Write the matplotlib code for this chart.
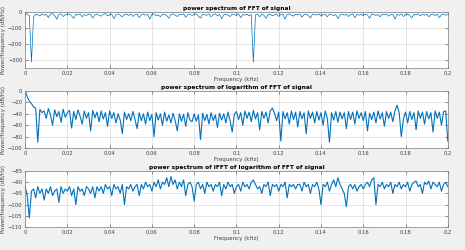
"""Three stacked power spectra, MATLAB-style figure."""

import matplotlib

matplotlib.use("Agg")
import matplotlib.pyplot as plt
import numpy as np

# power spectrum of FFT of signal (dB/Hz), one value every 0.001 kHz
fft_psd = [
    -8, -15, -22, -312, -30, -14, -18, -25, -12, -20,
    -16, -35, -13, -10, -22, -45, -15, -12, -28, -18,
    -14, -12, -25, -40, -14, -18, -12, -30, -16, -22,
    -13, -15, -38, -18, -12, -20, -26, -14, -10, -24,
    -18, -14, -42, -16, -12, -20, -30, -15, -13, -22,
    -12, -28, -16, -14, -35, -18, -12, -20, -15, -45,
    -14, -12, -24, -18, -30, -13, -16, -22, -40, -15,
    -12, -20, -28, -14, -18, -12, -33, -16, -14, -22,
    -15, -12, -26, -38, -14, -18, -20, -13, -30, -16,
    -12, -24, -15, -42, -18, -14, -20, -28, -13, -16,
    -22, -12, -35, -15, -20, -14, -25, -16, -315, -18,
    -14, -30, -12, -20, -40, -15, -13, -24, -18, -12,
    -28, -16, -14, -45, -15, -12, -20, -26, -14, -18,
    -12, -32, -16, -14, -22, -38, -13, -15, -20, -12,
    -26, -18, -14, -30, -12, -16, -24, -15, -42, -18,
    -12, -20, -14, -28, -16, -12, -36, -15, -20, -13,
    -24, -14, -18, -40, -12, -16, -22, -15, -30, -13,
    -18, -12, -26, -16, -14, -45, -15, -20, -12, -28,
    -16, -13, -22, -38, -14, -18, -12, -24, -15, -20,
    -13, -30, -16, -12, -22, -14, -35, -18, -12, -20, -16,
]

# power spectrum of logarithm of FFT of signal
log_psd = [
    0, -10, -18, -22, -28, -30, -90, -32, -38, -35,
    -48, -31, -42, -60, -33, -45, -36, -55, -32, -46,
    -38, -34, -65, -36, -50, -33, -44, -58, -35, -48,
    -38, -70, -34, -47, -37, -54, -35, -49, -38, -62,
    -35, -48, -38, -56, -40, -51, -75, -37, -50, -40,
    -52, -36, -50, -66, -38, -52, -40, -58, -37, -52,
    -41, -80, -38, -51, -40, -60, -37, -53, -42, -56,
    -39, -52, -70, -40, -53, -41, -62, -38, -51, -54,
    -40, -53, -42, -85, -39, -52, -41, -58, -38, -52,
    -42, -64, -39, -51, -40, -56, -37, -52, -72, -41,
    -36, -50, -38, -60, -35, -48, -37, -54, -34, -49,
    -38, -68, -36, -48, -37, -56, -35, -30, -39, -52,
    -37, -88, -36, -49, -38, -58, -35, -50, -37, -63,
    -36, -49, -38, -75, -35, -48, -37, -56, -36, -51,
    -38, -60, -35, -48, -90, -38, -51, -36, -55, -37,
    -49, -38, -66, -36, -50, -37, -58, -35, -48, -38,
    -52, -36, -70, -39, -50, -37, -56, -35, -49, -38,
    -62, -36, -48, -37, -54, -35, -25, -38, -80, -49,
    -37, -56, -36, -50, -38, -68, -35, -48, -37, -58,
    -36, -49, -38, -72, -35, -48, -37, -60, -36, -35, -88,
]

# power spectrum of IFFT of logarithm of FFT of signal
ifft_psd = [
    -92, -96, -106, -94, -93, -97, -92, -95, -93, -98,
    -93, -95, -92, -96, -94, -93, -99, -92, -95, -93,
    -94, -92, -96, -93, -100, -92, -94, -93, -96, -92,
    -93, -95, -92, -97, -92, -94, -92, -95, -91, -93,
    -92, -96, -91, -93, -92, -95, -91, -100, -92, -93,
    -91, -94, -92, -91, -96, -91, -93, -90, -92, -91,
    -94, -90, -92, -89, -93, -90, -91, -88, -92, -87.5,
    -91, -89, -93, -90, -92, -89, -96, -91, -90, -92,
    -98.5, -91, -90, -93, -91, -95, -90, -92, -91, -94,
    -91, -92, -90, -96, -91, -93, -90, -92, -91, -95,
    -92, -91, -94, -90, -92, -91, -93, -90, -89, -91,
    -93, -92, -95, -91, -92, -90, -96, -91, -92, -91,
    -94, -91, -92, -90, -97, -91, -92, -91, -93, -91,
    -91, -94, -90, -92, -91, -95, -91, -92, -90, -93,
    -100, -91, -92, -90, -94, -91, -89, -92, -88, -91,
    -93, -95, -101, -92, -91, -93, -91, -94, -92, -91,
    -93, -91, -90, -92, -89, -88, -100, -91, -92, -90,
    -93, -91, -92, -90, -95, -91, -92, -90, -93, -91,
    -92, -90, -94, -91, -90, -89.5, -92, -91, -95, -90,
    -91, -89.5, -93, -90, -91, -92, -90, -94, -91, -90, -92,
]

titles = [
    "power spectrum of FFT of signal",
    "power spectrum of logarithm of FFT of signal",
    "power spectrum of IFFT of logarithm of FFT of signal",
]
ylims = [(-350, 0), (-100, 0), (-110, -85)]
yticks = [[-300, -200, -100, 0], [-100, -80, -60, -40, -20, 0], [-110, -105, -100, -95, -90, -85]]
xticks = [0, 0.02, 0.04, 0.06, 0.08, 0.1, 0.12, 0.14, 0.16, 0.18, 0.2]
xticklabels = ["0", "0.02", "0.04", "0.06", "0.08", "0.1", "0.12", "0.14", "0.16", "0.18", "0.2"]

fig = plt.figure(figsize=(4.65, 2.5), dpi=100, facecolor="#F0F0F0")
boxes = [(0.054, 0.728, 0.909, 0.224), (0.054, 0.408, 0.909, 0.228), (0.054, 0.092, 0.909, 0.224)]
widths = [0.5, 0.8, 0.8]

for box, values, title, ylim, yt, lw in zip(boxes, [fft_psd, log_psd, ifft_psd], titles,
                                           ylims, yticks, widths):
    ax = fig.add_axes(box)
    freq = np.linspace(0, 0.2, len(values))
    ax.plot(freq, values, color="#0072BD", linewidth=lw)
    ax.set_xlim(0, 0.2)
    ax.set_ylim(*ylim)
    ax.set_xticks(xticks)
    ax.set_xticklabels(xticklabels)
    ax.set_yticks(yt)
    ax.set_title(title, fontsize=4.2, fontweight="bold", pad=1.5)
    ax.set_xlabel("Frequency (kHz)", fontsize=4, labelpad=1, color="#404040")
    ax.set_ylabel("Power/frequency (dB/Hz)", fontsize=4, labelpad=1, color="#404040")
    ax.tick_params(direction="in", length=2, width=0.4, labelsize=3.8, pad=2,
                   top=True, right=True, colors="#404040")
    ax.grid(color="#DADADA", linewidth=0.5)
    ax.set_axisbelow(True)
    for spine in ax.spines.values():
        spine.set_color("#808080")
        spine.set_linewidth(0.5)

fig.savefig("out.png", dpi=100, facecolor=fig.get_facecolor())
